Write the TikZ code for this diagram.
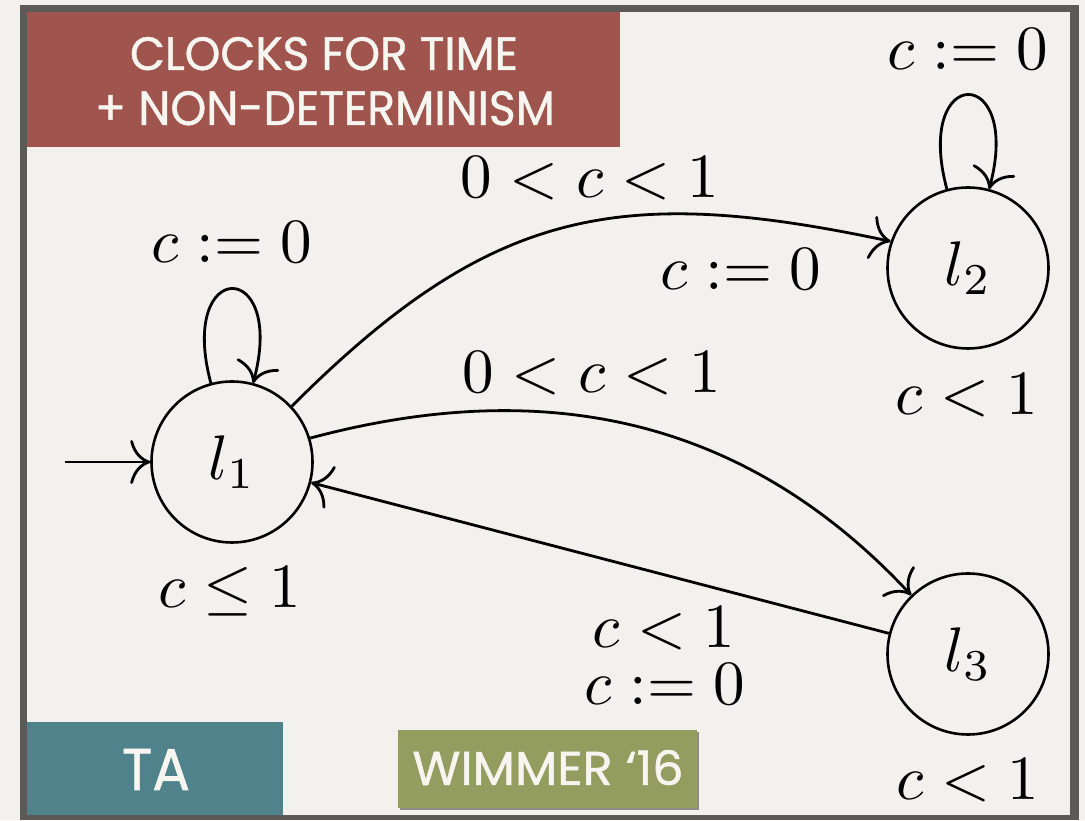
\documentclass[tikz,border=0pt]{standalone}
\usepackage{fontspec}
\usepackage{graphicx}
\newfontfamily\titlefont[FakeBold=1]{Poppins}
\usetikzlibrary{arrows.meta}
\definecolor{bgc}{HTML}{F2F1EE}
\definecolor{framec}{HTML}{5B5A56}
\definecolor{redc}{HTML}{A0544E}
\definecolor{tealc}{HTML}{4F828A}
\definecolor{olivec}{HTML}{929D5F}
\definecolor{boxtext}{HTML}{F7F5F0}
\newcommand{\mth}[1]{\scalebox{6.3}{$#1$}}
\tikzset{
  state/.style={draw, circle, line width=2.6pt, minimum size=161pt, inner sep=0pt},
  edge/.style={line width=2.8pt, -{Computer Modern Rightarrow[length=20pt,width=44pt,line width=2.8pt]}},
  lbl/.style={anchor=base, inner sep=0pt},
  ttl/.style={anchor=base, inner sep=0pt, text=boxtext},
}
\begin{document}
\begin{tikzpicture}[x=1pt,y=1pt]
\useasboundingbox (0,0) rectangle (1085,820);
\fill[bgc] (0,0) rectangle (1085,820);
\fill[framec] (20,0) rectangle (1079,815);
\fill[bgc] (27,5) rectangle (1070,808);
% coloured boxes
\fill[redc] (27,673) rectangle (620,808);
\fill[tealc] (27,5) rectangle (283,98);
\fill[black!45] (400,10) rectangle (699,88);
\fill[olivec] (398,12) rectangle (697,90);
\node[ttl] (t1) at (324,750) {\resizebox{388pt}{33pt}{\titlefont CLOCKS FOR TIME}};
\node[ttl] (t2) at (325,695) {\resizebox{460pt}{34pt}{\titlefont + NON-DETERMINISM}};
\node[ttl] (t3) at (156,30) {\resizebox{68pt}{41pt}{\titlefont TA}};
\node[ttl] (t4) at (548,35) {\resizebox{271pt}{35pt}{\titlefont WIMMER ‘16}};
% states
\node[state] (l1) at (232,358) {\mth{l_1}};
\node[state] (l2) at (968,552) {\mth{l_2}};
\node[state] (l3) at (968,166) {\mth{l_3}};
\coordinate (init) at (65,358);
% labels
\node[lbl] (a1) at (232,557) {\mth{c:=0}};
\node[lbl] (a2) at (968,750) {\mth{c:=0}};
\node[lbl] (g12) at (590,622) {\mth{0<c<1}};
\node[lbl] (r12) at (741,530) {\mth{c:=0}};
\node[lbl] (g13) at (592,427) {\mth{0<c<1}};
\node[lbl] (i2) at (967,405) {\mth{c<1}};
\node[lbl] (i1) at (230,212) {\mth{c\leq1}};
\node[lbl] (g31) at (664,172) {\mth{c<1}};
\node[lbl] (r31) at (665,115) {\mth{c:=0}};
\node[lbl] (i3) at (968,20) {\mth{c<1}};
% edges
\draw[edge] (init) -- (l1);
\draw[edge] (l1.105) .. controls +(105:130) and +(75:130) .. (l1.75);
\draw[edge] (l2.105) .. controls +(105:130) and +(75:130) .. (l2.75);
\draw[edge] (l1.43) to[out=45,in=168,looseness=1.15] (l2.161);
\draw[edge] (l1.17) to[out=15,in=133] (l3.134);
\draw[edge] (l3) -- (l1);
\end{tikzpicture}
\end{document}
